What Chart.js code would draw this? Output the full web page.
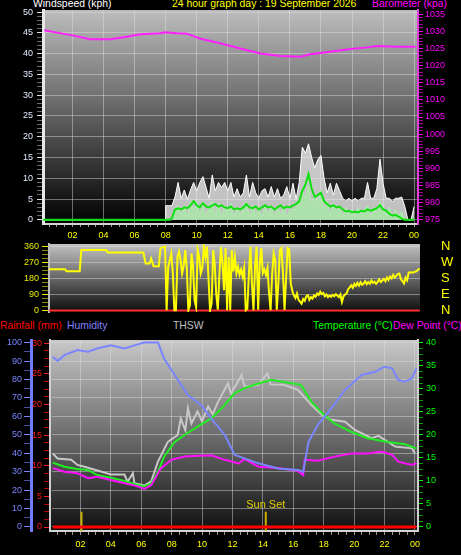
<!DOCTYPE html>
<html>
<head>
<meta charset="utf-8">
<script src="https://cdn.jsdelivr.net/npm/chart.js@4.4.1/dist/chart.umd.min.js"></script>
<style>
  body { margin: 0; background: #000; width: 461px; height: 555px; overflow: hidden; position: relative;
         font-family: "Liberation Sans", Arial, sans-serif; }
  canvas { position: absolute; left: 0; }
  .t { position: absolute; font-size: 10.4px; line-height: 12px; white-space: nowrap; }
</style>
</head>
<body>
<div class="t" style="left:33px;top:-2px;color:#fff">Windspeed (kph)</div>
<div class="t" style="left:172px;top:-2px;color:#ffff00">24 hour graph day : 19 September 2026</div>
<div class="t" style="left:372px;top:-2px;color:#ff00ff">Barometer (kpa)</div>

<div class="t" style="left:0px;top:320px;color:#ff0000">Rainfall (mm)</div>
<div class="t" style="left:67px;top:320px;color:#8080ff">Humidity</div>
<div class="t" style="left:173px;top:320px;color:#c0c0c0">THSW</div>
<div class="t" style="left:313px;top:320px;color:#00ff00">Temperature (°C)</div>
<div class="t" style="left:393px;top:320px;color:#ff00ff">Dew Point (°C)</div>

<canvas id="windChart" width="461" height="245" style="top:0"></canvas>
<canvas id="dirChart" width="461" height="75" style="top:240px"></canvas>
<canvas id="tempChart" width="461" height="220" style="top:335px"></canvas>

<script>
// ---- x axis labels (hours)
const evenHours = [2, 4, 6, 8, 10, 12, 14, 16, 18, 20, 22, 24];
const hourText = ["02", "04", "06", "08", "10", "12", "14", "16", "18", "20", "22", "00"];

// ---- wind speed (kph), calm until 08:00 then sampled every 0.2 h
const calmTimes = [0, 7.98];
const calmWind = [0, 0];
const windStart = 8.0;
const windStep = 0.2;
const gustValues = [3.4, 3.4, 3.4, 5.5, 9.0, 5.2, 7.2, 5.0, 7.2, 9.0,
  7.0, 9.0, 10.4, 7.8, 5.2, 10.8, 7.0, 9.0, 7.8, 9.0,
  7.0, 9.0, 5.5, 7.5, 5.5, 6.5, 10.8, 5.5, 9.0, 6.5,
  5.2, 7.0, 7.5, 5.5, 8.0, 5.5, 7.5, 5.2, 6.0, 8.0,
  5.2, 8.8, 5.0, 9.0, 17.5, 16.0, 18.3, 15.0, 12.5, 14.5,
  15.5, 10.0, 6.5, 8.8, 6.0, 8.8, 7.0, 5.2, 4.5, 5.2,
  4.5, 5.2, 4.5, 5.2, 5.2, 9.0, 5.2, 5.2, 7.5, 14.6,
  8.8, 5.2, 5.2, 4.5, 5.2, 5.2, 5.5, 3.2, 0, 0, 3.2];
const speedValues = [0, 0, 0, 2.5, 3.5, 1.0, 3.5, 0.5, 4.5, 2.0,
  4.5, 1.0, 3.5, 0.5, 3.5, 4.5, 1.0, 4.0, 0.5, 3.5,
  2.0, 4.0, 0.5, 3.0, 1.0, 3.0, 4.5, 0.5, 3.5, 1.0,
  3.0, 0.5, 3.5, 1.0, 3.5, 0.5, 3.0, 1.0, 3.5, 0.5,
  2.5, 2.5, 3.0, 4.5, 7.0, 5.0, 8.5, 3.0, 6.0, 4.0,
  7.0, 2.5, 4.5, 1.0, 4.0, 2.0, 3.5, 0.5, 3.0, 1.0,
  2.5, 0.5, 3.0, 1.0, 2.5, 3.5, 0.5, 3.0, 2.0, 4.5,
  3.0, 1.0, 3.0, 0.5, 2.5, 1.0, 2.0, 0, 0, 0, 0];
const avgValues = [0, 0, 0.3, 2.5, 2.8, 2.5, 3.0, 2.8, 3.5, 4.5,
  3.5, 3.0, 4.0, 3.2, 3.0, 3.5, 3.8, 3.2, 3.5, 3.0,
  2.8, 3.2, 2.5, 2.8, 2.5, 3.0, 3.8, 3.0, 2.8, 3.2,
  2.5, 3.0, 3.5, 3.0, 3.2, 2.5, 3.0, 3.5, 2.8, 3.2,
  3.0, 3.5, 3.8, 4.5, 7.0, 8.5, 11.0, 7.5, 5.5, 6.0,
  6.5, 4.5, 3.8, 3.2, 3.5, 3.0, 3.2, 2.5, 2.0, 2.2,
  1.8, 2.0, 1.8, 2.2, 2.0, 2.5, 2.2, 2.5, 2.8, 3.5,
  2.5, 2.2, 1.5, 1.0, 1.2, 0.8, 0.3, 0, 0, 0, 0];

// ---- barometer (kpa)
const baroTimes = [0.18, 1.0, 2.0, 3.14, 4.43, 5.4, 6.36, 7.65, 7.97, 8.72, 9.36, 10.2,
  11.5, 12.8, 14.1, 15.4, 16.7, 17.3, 18.6, 19.9, 21.0, 21.6, 22.9, 24.1];
const baroValues = [1030.3, 1029.6, 1028.8, 1027.7, 1027.7, 1028.3, 1029.1, 1029.4, 1029.7, 1029.4, 1029.3, 1027.9,
  1026.5, 1025.0, 1023.5, 1022.8, 1022.6, 1023.3, 1024.0, 1024.8, 1025.3, 1025.7, 1025.5, 1025.5];

// ---- wind direction (degrees)
const dirEarlyTimes = [0.52, 1.55, 1.65, 2.5, 2.6, 4.2, 4.3, 6.6, 6.75, 7.0, 7.1, 7.26, 7.6, 7.7, 7.97];
const dirEarly = [232, 232, 221, 221, 339, 339, 326, 326, 264, 264, 292, 249, 249, 349, 358];
const dirMidStart = 8.0;
const dirMid = [358, 2, 240, 283, 320, 210, 2, 2, 300, 330,
  283, 208, 250, 339, 240, 2, 30, 320, 250, 60,
  20, 340, 300, 208, 240, 358, 300, 358, 180, 2,
  40, 339, 260, 90, 5, 200, 355, 270, 114, 350,
  2, 300, 2, 339, 220, 300, 208, 245, 200, 230,
  190, 240, 2, 10, 200, 358, 150, 2, 250, 358,
  5, 260, 350, 210, 230, 200, 240, 100, 2, 200,
  320, 283, 5, 150, 339, 350, 210, 3, 180, 350, 345];
const dirLateStart = 16.1;
const dirLate = [152, 110, 86, 70, 95, 60, 50, 39, 65, 55,
  80, 86, 60, 75, 67, 85, 78, 95, 88, 105,
  92, 98, 80, 90, 76, 85, 77, 88, 80, 92,
  84, 75, 90, 48, 80, 90, 96, 120, 130, 142,
  128, 150, 138, 155, 140, 158, 145, 152, 165, 148,
  160, 150, 168, 155, 162, 150, 161, 175, 160, 168,
  178, 165, 185, 172, 190, 180, 200, 185, 195, 205,
  208, 175, 165, 152, 185, 170, 213, 215, 213, 213,
  218, 220, 228, 236];
const dirStep = 0.1;
const compassDeg = [0, 90, 180, 270, 360];
const compassText = ["N", "E", "S", "W", "N"];
const dirBaseTimes = [0.52, 24.4];
const dirBase = [0, 0];

// ---- temperature panel
const humTimes = [0.18, 0.5, 0.95, 1.8, 2.5, 3.1, 4.0, 4.9, 5.6, 6.2, 7.1, 7.5, 8.2, 9.07, 9.95, 10.6,
  11.5, 12.15, 12.8, 13.7, 15.0, 16.3, 16.65, 17.0, 17.6, 18.5, 19.4, 20.5, 21.4, 22.0, 22.5, 22.9,
  23.35, 23.8, 24.1];
const humValues = [92.3, 90, 93.2, 96, 95, 96.8, 98.6, 96.8, 98.6, 100, 100, 91.4, 82.4, 71.5, 66, 58.9,
  49.9, 39, 37.2, 34.5, 31.7, 30.9, 30, 46, 55.3, 64.3, 74.3, 82.4, 84.2, 86.9, 86, 79.7,
  78.8, 80.6, 86];
const tempTimes = [0.18, 0.95, 1.8, 2.5, 3.1, 4.0, 4.9, 5.6, 6.2, 6.65, 7.1, 7.5, 8.2, 8.85, 9.7, 10.6,
  11.3, 12.15, 12.8, 13.7, 14.55, 15.4, 16.5, 17.2, 17.9, 18.7, 19.8, 20.9, 22.2, 23.35, 24.1];
const tempValues = [14.0, 13.1, 12.6, 12.4, 11.3, 10.7, 10.0, 9.3, 8.8, 9.5, 12.0, 15.3, 18.5, 20.0, 21.8, 23.6,
  25.8, 29.1, 30.2, 31.2, 32.0, 31.5, 30.9, 27.2, 24.7, 22.5, 20.7, 19.3, 18.5, 18.0, 17.1];
const thswTimes = [0.18, 0.5, 1.4, 1.8, 2.27, 3.4, 4.0, 4.9, 5.1, 5.45, 5.55, 6.2, 6.65, 7.1, 7.75, 8.4,
  8.6, 8.9, 9.07, 9.3, 9.7, 10.0, 10.4, 10.7, 11.05, 11.7, 11.9, 12.6, 12.8, 13.7, 14.3, 14.5,
  15.4, 16.3, 17.2, 17.9, 18.5, 19.4, 20.05, 21.15, 21.6, 22.7, 23.8, 24.0];
const thswValues = [16.0, 14.9, 14.6, 13.5, 13.1, 12.0, 11.4, 11.4, 9.8, 11.7, 9.5, 9.0, 9.9, 14.2, 18.5, 20.0,
  23.6, 21.0, 25.8, 22.5, 25.1, 23.0, 26.2, 24.5, 27.2, 31.2, 29.0, 33.0, 30.5, 30.9, 33.4, 31.0,
  30.9, 29.8, 26.5, 24.3, 23.3, 22.9, 21.1, 19.3, 19.8, 17.5, 17.1, 16.0];
const dewTimes = [0.18, 0.95, 1.8, 2.5, 3.1, 4.0, 4.9, 5.6, 6.2, 6.65, 7.3, 7.98, 8.85, 9.7, 10.6, 11.5,
  12.4, 12.8, 13.7, 15.0, 16.3, 16.65, 16.75, 17.6, 18.7, 19.8, 20.9, 21.8, 22.5, 22.9, 23.8, 24.1];
const dewValues = [12.8, 12.0, 11.7, 10.6, 10.9, 10.2, 9.5, 9.0, 8.3, 9.1, 12.8, 14.6, 15.3, 15.5, 15.6, 14.6,
  13.8, 14.8, 13.1, 12.8, 12.2, 11.3, 14.6, 14.4, 15.3, 16.0, 16.0, 16.4, 15.7, 14.2, 13.5, 13.9];
const rainTimes = [0.2, 24.1];
const rainValues = [0, 0];
const sunTimes = [2.07, 14.19];
const sunLabels = ["", "Sun Set"];

// ---- helpers
function pts(times, values) {
  return values.map((v, i) => ({ x: times[i], y: v }));
}
function sampled(start, step, values) {
  return values.map((v, i) => ({ x: +(start + i * step).toFixed(2), y: v }));
}
function range(from, to, step) {
  const out = [];
  for (let v = from; v <= to + 1e-9; v += step) out.push(Math.round(v * 1000) / 1000);
  return out;
}
function fixTicks(list) {
  return (scale) => { scale.ticks = list.map((v) => ({ value: v })); };
}
// force axis sizes so the plot areas land where the original has them
function fixWidth(w) {
  return (scale) => { scale.width = w; scale.paddingTop = 0; scale.paddingBottom = 0; };
}
function fixHeight(h) {
  return (scale) => { scale.height = h; scale.paddingLeft = 0; scale.paddingRight = 0; };
}
function isMult(v, m) { return Math.abs(v / m - Math.round(v / m)) < 1e-6; }

const DOT = "rgba(225,225,225,0.45)";
Chart.defaults.font.family = '"Liberation Sans", Arial, sans-serif';
Chart.defaults.font.size = 9;

function bgPlugin(top, bottom) {
  return {
    id: "bg",
    beforeDraw(chart) {
      const a = chart.chartArea;
      const ctx = chart.ctx;
      const g = ctx.createLinearGradient(0, a.top, 0, a.bottom);
      g.addColorStop(0, top);
      g.addColorStop(1, bottom);
      ctx.save();
      ctx.fillStyle = g;
      ctx.fillRect(a.left, a.top, a.right - a.left, a.bottom - a.top);
      ctx.restore();
    }
  };
}

function hourAxis(min, max, height, tickLen, pad) {
  return {
    type: "linear", min: min, max: max,
    afterBuildTicks: fixTicks(range(0.5, 24, 0.5)),
    afterFit: fixHeight(height),
    ticks: {
      color: "#ffff00", autoSkip: false, maxRotation: 0, padding: pad,
      callback: (v) => {
        const i = evenHours.indexOf(v);
        return i >= 0 ? hourText[i] : "";
      }
    },
    grid: {
      color: (c) => (c.tick && isMult(c.tick.value, 2) ? DOT : "transparent"),
      borderDash: [1, 2], tickLength: tickLen, tickColor: "#9a9a9a"
    },
    border: { color: "#d4d4d4", width: 2 }
  };
}

const baseOpts = {
  responsive: false, animation: false,
  plugins: { legend: { display: false }, tooltip: { enabled: false } },
  elements: { point: { radius: 0 }, line: { tension: 0 } }
};

// ---- panel 1: wind speed + barometer
new Chart(document.getElementById("windChart"), {
  type: "line",
  data: {
    datasets: [
      { data: pts(calmTimes, calmWind).concat(sampled(windStart, windStep, avgValues)),
        borderColor: "#10e010", borderWidth: 2, yAxisID: "y" },
      { data: pts(baroTimes, baroValues), borderColor: "#ff20ff", borderWidth: 2, yAxisID: "yb" },
      { data: pts(calmTimes, calmWind).concat(sampled(windStart, windStep, speedValues)),
        borderColor: "#b0eab0", borderWidth: 1, fill: "origin",
        backgroundColor: "rgba(170,228,170,0.92)", yAxisID: "y" },
      { data: pts(calmTimes, calmWind).concat(sampled(windStart, windStep, gustValues)),
        borderColor: "#ffffff", borderWidth: 1, fill: "origin",
        backgroundColor: "rgba(238,238,238,0.8)", yAxisID: "y" }
    ]
  },
  options: Object.assign({}, baseOpts, {
    layout: { padding: { top: 10, left: 0, right: 0, bottom: 0 } },
    scales: {
      x: hourAxis(0.1, 24.25, 21, 3, 3),
      y: {
        position: "left", min: -1, max: 50.5,
        afterBuildTicks: fixTicks(range(0, 50, 1)),
        afterFit: fixWidth(43),
        ticks: { color: "#e4ecff", padding: 4, autoSkip: false,
          callback: (v) => (isMult(v, 5) ? String(v) : "") },
        grid: { color: (c) => (c.tick && isMult(c.tick.value, 5) ? DOT : "transparent"),
          borderDash: [1, 2], tickLength: 6,
          tickColor: (c) => (c.tick && isMult(c.tick.value, 5) ? "#e0e0e0" : "#6a6a6a") },
        border: { color: "#e8e8e8", width: 3 }
      },
      yb: {
        position: "right", min: 973.8, max: 1036.2,
        afterBuildTicks: fixTicks(range(975, 1035, 1)),
        afterFit: fixWidth(43),
        ticks: { color: "#ff00ff", padding: 2, autoSkip: false,
          callback: (v) => (isMult(v, 5) ? String(v) : "") },
        grid: { drawOnChartArea: false, tickLength: 5,
          tickColor: (c) => (c.tick && isMult(c.tick.value, 5) ? "#ff00ff" : "#a000a0") },
        border: { color: "#e040e0", width: 2 }
      }
    }
  }),
  plugins: [bgPlugin("#bdbdbd", "#000000")]
});

// ---- panel 2: wind direction
new Chart(document.getElementById("dirChart"), {
  type: "line",
  data: {
    datasets: [
      { data: pts(dirEarlyTimes, dirEarly)
          .concat(sampled(dirMidStart, dirStep, dirMid))
          .concat(sampled(dirLateStart, dirStep, dirLate)),
        borderColor: "#ffff00", borderWidth: 2, yAxisID: "y" },
      { data: pts(dirBaseTimes, dirBase), borderColor: "#ff2a2a", borderWidth: 2, yAxisID: "y" }
    ]
  },
  options: Object.assign({}, baseOpts, {
    layout: { padding: { top: 4, left: 0, right: 0, bottom: 3 } },
    scales: {
      x: { type: "linear", min: 0.52, max: 24.43, display: false },
      y: {
        position: "left", min: -8, max: 373,
        afterBuildTicks: fixTicks(range(0, 360, 22.5)),
        afterFit: fixWidth(49),
        ticks: { color: "#e8e800", padding: 3, autoSkip: false,
          callback: (v) => (isMult(v, 90) ? String(v) : "") },
        grid: { color: (c) => (c.tick && isMult(c.tick.value, 90) ? DOT : "transparent"),
          borderDash: [1, 2], tickLength: 7,
          tickColor: (c) => (c.tick && isMult(c.tick.value, 90) ? "#e8e800" : "#8a8a00") },
        border: { color: "#bdbdbd", width: 2 }
      },
      compass: {
        position: "right", min: -8, max: 373,
        afterBuildTicks: fixTicks(compassDeg),
        afterFit: fixWidth(41),
        ticks: { color: "#ffff00", padding: 13, autoSkip: false, font: { size: 13 },
          callback: (v) => compassText[compassDeg.indexOf(v)] },
        grid: { display: false },
        border: { display: false }
      }
    }
  }),
  plugins: [bgPlugin("#c2c2c2", "#0c0c0c")]
});

// ---- panel 3: temperature, humidity, rain
const sunData = [];
sunTimes.forEach((t, i) => {
  if (i > 0) sunData.push({ x: t - 0.01, y: null });
  sunData.push({ x: t, y: -0.87 }, { x: t, y: 3.3 });
});

const sunTextPlugin = {
  id: "sunText",
  afterDatasetsDraw(chart) {
    const xs = chart.scales.x;
    const ys = chart.scales.yt;
    const ctx = chart.ctx;
    ctx.save();
    ctx.fillStyle = "#e0d000";
    ctx.font = '11px "Liberation Sans", Arial, sans-serif';
    ctx.textAlign = "center";
    ctx.textBaseline = "bottom";
    sunTimes.forEach((t, i) => {
      if (sunLabels[i]) ctx.fillText(sunLabels[i], xs.getPixelForValue(t), ys.getPixelForValue(3.3) - 1);
    });
    ctx.restore();
  }
};

new Chart(document.getElementById("tempChart"), {
  type: "line",
  data: {
    datasets: [
      { data: pts(humTimes, humValues), borderColor: "#7a86ff", borderWidth: 2, yAxisID: "yh" },
      { data: pts(dewTimes, dewValues), borderColor: "#ff10ff", borderWidth: 2, yAxisID: "yt" },
      { data: pts(tempTimes, tempValues), borderColor: "#20ee20", borderWidth: 2, yAxisID: "yt" },
      { data: pts(thswTimes, thswValues), borderColor: "#c8c8c8", borderWidth: 2, yAxisID: "yt" },
      { data: pts(rainTimes, rainValues), borderColor: "#ff0000", borderWidth: 3, yAxisID: "yr" },
      { data: sunData, borderColor: "#c8b000", borderWidth: 2, spanGaps: false, yAxisID: "yt" }
    ]
  },
  options: Object.assign({}, baseOpts, {
    layout: { padding: { top: 5, left: 0, right: 0, bottom: 0 } },
    scales: {
      x: hourAxis(0, 24.2, 24, 4, 4),
      yh: {
        position: "left", weight: 2, min: -2.2, max: 101.4,
        afterBuildTicks: fixTicks(range(0, 100, 5)),
        afterFit: fixWidth(31),
        ticks: { color: "#7a86ff", padding: 2, autoSkip: false,
          callback: (v) => (isMult(v, 10) ? String(v) : "") },
        grid: { color: (c) => (c.tick && isMult(c.tick.value, 10) ? DOT : "transparent"),
          borderDash: [1, 2], tickLength: 7,
          tickColor: (c) => (c.tick && isMult(c.tick.value, 10) ? "#7a86ff" : "#4a52a0") },
        border: { color: "#6f7cff", width: 3 }
      },
      yr: {
        position: "left", weight: 1, min: -0.65, max: 30.5,
        afterBuildTicks: fixTicks(range(0, 30, 1.25)),
        afterFit: fixWidth(19),
        ticks: { color: "#ff1a1a", padding: 2, autoSkip: false,
          callback: (v) => (isMult(v, 5) ? String(v) : "") },
        grid: { drawOnChartArea: false, tickLength: 6,
          tickColor: (c) => (c.tick && isMult(c.tick.value, 5) ? "#ff2020" : "#b00000") },
        border: { color: "#cfcfcf", width: 2 }
      },
      yt: {
        position: "right", min: -0.87, max: 40.65,
        afterBuildTicks: fixTicks(range(0, 40, 1.25)),
        afterFit: fixWidth(43),
        ticks: { color: "#00ff00", padding: 3, autoSkip: false,
          callback: (v) => (isMult(v, 5) ? String(v) : "") },
        grid: { drawOnChartArea: false, tickLength: 5,
          tickColor: (c) => (c.tick && isMult(c.tick.value, 5) ? "#00ff00" : "#00a000") },
        border: { color: "#cfcfcf", width: 2 }
      }
    }
  }),
  plugins: [bgPlugin("#c8c8c8", "#101010"), sunTextPlugin]
});
</script>
</body>
</html>
